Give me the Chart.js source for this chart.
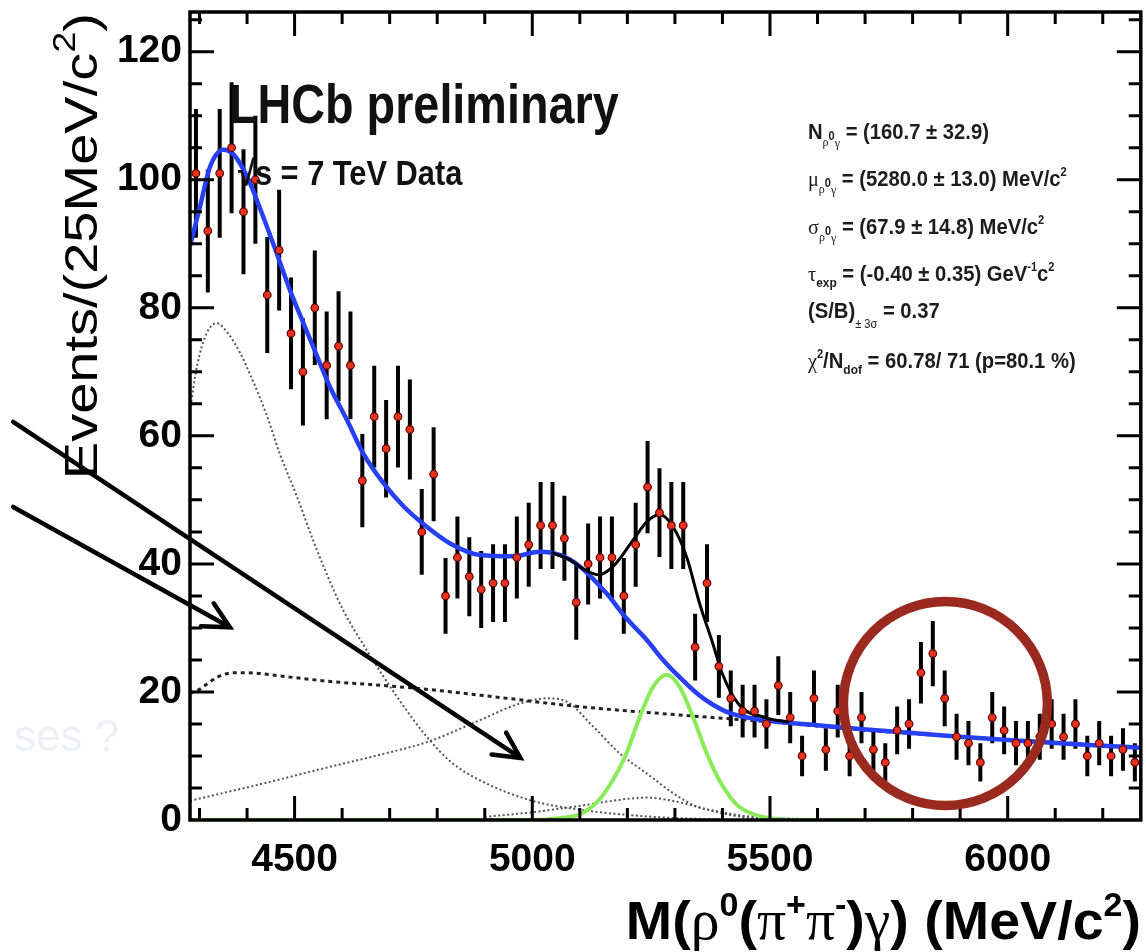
<!DOCTYPE html>
<html>
<head>
<meta charset="utf-8">
<title>M(rho0 gamma) LHCb</title>
<script src="https://cdn.jsdelivr.net/npm/chart.js@4.4.1/dist/chart.umd.min.js"></script>
<style>
  html, body { margin: 0; padding: 0; background: #fff; }
  canvas { display: block; }
</style>
</head>
<body>
<canvas id="masaChart" width="1146" height="952"></canvas>
<script>
// Rango del histograma de masa invariante (MeV/c2)
var masaMin = 4280;
var masaMax = 6280;
var anchoBin = 25;

// Eventos por bin de 25 MeV/c2
var eventos = [101, 92, 101, 105, 95, 100, 82, 89, 76, 70,
    80, 71, 74, 71, 53, 63, 58, 63, 61, 45,
    54, 35, 41, 38, 36, 37, 37, 41, 43, 46,
    46, 44, 34, 40, 41, 41, 35, 43, 52, 48,
    46, 46, 27, 37, 24, 19, 17, 17, 15, 21,
    16, 10, 19, 11, 17, 10, 16, 11, 9, 14,
    15, 23, 26, 19, 13, 12, 9, 16, 14, 12,
    12, 13, 15, 13, 15, 10, 12, 10, 11, 9];

var etiquetasX = [4500, 5000, 5500, 6000];
var etiquetasY = [0, 20, 40, 60, 80, 100, 120];

// Fondo total del ajuste (azul)
var masaFondo = [4280, 4287, 4301, 4322, 4350, 4371, 4400, 4430, 4460, 4490, 4518, 4546, 4574,
    4610, 4644, 4687, 4729, 4778, 4827, 4890, 4960, 5016, 5058, 5100, 5156, 5198, 5240, 5275, 5310,
    5346, 5380, 5416, 5486, 5600, 5689, 5800, 5899, 6000, 6110, 6200, 6280];
var fondoTotal = [89.7, 91.7, 95.8, 102, 104.7, 104, 100.5, 95, 89, 82.8, 77.7, 72.7, 67.7,
    62.5, 57.3, 52.6, 49, 45.8, 43.2, 41.4, 41.2, 41.9, 41.4, 39.6, 35.4, 31.5, 28.2, 25, 22.3,
    19.8, 18, 16.7, 15.6, 14.8, 14.2, 13.6, 13, 12.5, 12, 11.6, 11.3];

// Ajuste total senal + fondo (negro)
var masaTotal = [5040, 5080, 5110, 5140, 5170, 5212, 5240, 5268, 5296, 5325, 5352, 5380, 5400, 5435, 5490, 5540];
var ajusteTotal = [41.8, 40.6, 39.1, 38.3, 39.6, 43.7, 46.5, 47.7, 45.8, 41, 33.8, 27.5, 22.8, 18, 16, 15.3];

// Senal B0 -> rho0 gamma (verde)
var masaSenal = [4280, 5000, 5060, 5100, 5135, 5170, 5198, 5226, 5254, 5283, 5310, 5338, 5367, 5395, 5430, 5465, 5510, 5560, 5800];
var senal = [0, 0, 0.3, 0.9, 2.7, 6.3, 10.4, 16.1, 20.8, 22.7, 20.8, 16.1, 10.4, 6.0, 2.4, 0.9, 0.2, 0, 0];

// Componentes del fondo (punteadas)
var masaParcial = [4280, 4295, 4315, 4336, 4360, 4385, 4410, 4440, 4470, 4505, 4540, 4570, 4602, 4652,
    4715, 4778, 4830, 4890, 4995, 5100, 5200, 5300, 5400];
var fondoParcial = [64, 71, 76, 77.6, 76, 73, 69, 63.5, 57, 50.5, 43.5, 38, 32.8, 26.5,
    19.3, 13, 9, 6.2, 3.1, 1.6, 0.8, 0.3, 0.1];

var masaComb = [4280, 4300, 4315, 4340, 4372, 4400, 4480, 4580, 4670, 4780, 4890, 5100, 5310, 5486, 5689, 5899, 6110, 6280];
var fondoComb = [19.8, 20.4, 21.2, 22.4, 23, 23, 22.4, 21.6, 21.1, 20.4, 19.5, 17.7, 16.4, 15.4, 14.1, 13, 12.1, 11.3];

var masaOtro = [4280, 4434, 4574, 4680, 4784, 4890, 4974, 5030, 5072, 5128, 5184, 5240, 5296, 5346, 5394, 5450, 5550, 5650];
var fondoOtro = [3, 5.7, 8.3, 10.2, 12.3, 15.6, 18.2, 19, 18.5, 14.6, 10.4, 7.3, 4.2, 2.1, 1.3, 0.6, 0.2, 0];

var masaPico = [4900, 5000, 5060, 5100, 5150, 5200, 5240, 5280, 5330, 5380, 5430, 5500];
var fondoPico = [0.5, 1.2, 1.8, 2.2, 2.8, 3.3, 3.5, 3.2, 2.4, 1.4, 0.6, 0.1];

var SANS = '"Liberation Sans", Arial, Helvetica, sans-serif';
var SERIF = '"Liberation Serif", "Times New Roman", serif';

var centros = eventos.map(function (_, i) { return masaMin + anchoBin * (i + 0.5); });

function puntos(xs, ys) {
    return xs.map(function (x, i) { return {x: x, y: ys[i]}; });
}

// Texto con partes de distinto tamano (subindices, superindices)
function escribir(ctx, partes, x, y, op) {
    op = op || {};
    var ancho = 0;
    partes.forEach(function (p) {
        ctx.font = p.f;
        p.w = ctx.measureText(p.t).width;
        ancho += p.w;
    });
    ctx.save();
    ctx.translate(x, y);
    if (op.rotar) ctx.rotate(op.rotar);
    ctx.scale(op.escX || 1, op.escY || 1);
    var cx = op.alinear === 'right' ? -ancho : 0;
    ctx.textAlign = 'left';
    ctx.textBaseline = 'alphabetic';
    ctx.fillStyle = op.color || '#000';
    partes.forEach(function (p) {
        ctx.font = p.f;
        ctx.fillText(p.t, cx, p.dy || 0);
        cx += p.w;
    });
    ctx.restore();
}

var barrasError = {
    id: 'barrasError',
    beforeDatasetsDraw: function (chart) {
        var ctx = chart.ctx, a = chart.chartArea;
        var sx = chart.scales.x, sy = chart.scales.y;
        ctx.save();
        ctx.beginPath();
        ctx.rect(a.left, a.top, a.right - a.left, a.bottom - a.top);
        ctx.clip();
        ctx.strokeStyle = '#000';
        ctx.lineWidth = 4;
        eventos.forEach(function (n, i) {
            var px = sx.getPixelForValue(centros[i]);
            var err = Math.sqrt(n);
            ctx.beginPath();
            ctx.moveTo(px, sy.getPixelForValue(n - err));
            ctx.lineTo(px, sy.getPixelForValue(n + err));
            ctx.stroke();
        });
        ctx.restore();
    }
};

// Marco con marcas hacia dentro en los cuatro lados
var marco = {
    id: 'marco',
    afterDatasetsDraw: function (chart) {
        var ctx = chart.ctx, a = chart.chartArea;
        var sx = chart.scales.x, sy = chart.scales.y;
        ctx.save();
        ctx.strokeStyle = '#000';
        ctx.lineWidth = 3;
        ctx.beginPath();
        for (var v = 4300; v <= 6200; v += 100) {
            var lx = etiquetasX.indexOf(v) >= 0 ? 24 : 12;
            var px = sx.getPixelForValue(v);
            ctx.moveTo(px, a.bottom); ctx.lineTo(px, a.bottom - lx);
            ctx.moveTo(px, a.top); ctx.lineTo(px, a.top + lx);
        }
        for (var w = 5; w <= 125; w += 5) {
            var ly = etiquetasY.indexOf(w) >= 0 ? 24 : 12;
            var py = sy.getPixelForValue(w);
            ctx.moveTo(a.left, py); ctx.lineTo(a.left + ly, py);
            ctx.moveTo(a.right, py); ctx.lineTo(a.right - ly, py);
        }
        ctx.stroke();
        ctx.lineWidth = 3.5;
        ctx.strokeRect(a.left, a.top, a.right - a.left, a.bottom - a.top);
        ctx.restore();
    }
};

// Flechas, circulo y textos encima del grafico
var anotaciones = {
    id: 'anotaciones',
    afterDraw: function (chart) {
        var ctx = chart.ctx;
        var sx = chart.scales.x, sy = chart.scales.y;

        // texto apenas visible a la izquierda
        escribir(ctx, [{t: 'ses ?', f: '44px ' + SANS}], 14, 751, {color: '#eeeef7'});

        // flechas
        var flechas = [
            {desde: [3908, 62.2], hasta: [4975, 9.7]},
            {desde: [3908, 48.9], hasta: [4364, 30.1]}
        ];
        ctx.save();
        ctx.strokeStyle = '#000';
        ctx.lineWidth = 4.5;
        ctx.lineCap = 'round';
        flechas.forEach(function (f) {
            var x0 = sx.getPixelForValue(f.desde[0]), y0 = sy.getPixelForValue(f.desde[1]);
            var x1 = sx.getPixelForValue(f.hasta[0]), y1 = sy.getPixelForValue(f.hasta[1]);
            var ang = Math.atan2(y1 - y0, x1 - x0) + Math.PI;
            ctx.beginPath();
            ctx.moveTo(x0, y0);
            ctx.lineTo(x1, y1);
            ctx.moveTo(x1 + 29 * Math.cos(ang + 0.47), y1 + 29 * Math.sin(ang + 0.47));
            ctx.lineTo(x1, y1);
            ctx.lineTo(x1 + 29 * Math.cos(ang - 0.47), y1 + 29 * Math.sin(ang - 0.47));
            ctx.stroke();
        });
        ctx.restore();

        // circulo alrededor del exceso cerca de 5870
        ctx.save();
        ctx.strokeStyle = '#9a2a20';
        ctx.lineWidth = 9.5;
        ctx.beginPath();
        ctx.arc(sx.getPixelForValue(5869), sy.getPixelForValue(18.2), 102, 0, 2 * Math.PI);
        ctx.stroke();
        ctx.restore();

        // titulos
        escribir(ctx, [{t: 'LHCb preliminary', f: 'bold 55px ' + SANS}], 229, 123, {escX: 0.85, color: '#111'});
        escribir(ctx, [{t: '\u221As = 7 TeV Data', f: 'bold 35px ' + SANS}], 238, 185, {escX: 0.88, color: '#111'});

        // parametros del ajuste
        var g = 'bold 22px ' + SANS, sub = '13px ' + SERIF, chico = 'bold 13px ' + SANS, sup = 'bold 12px ' + SANS;
        var c = '#1c1c1c';
        var op = {escX: 0.92, color: c};
        var x0 = 808;
        escribir(ctx, [{t: 'N', f: g}, {t: '\u03C1', f: sub, dy: 7}, {t: '0', f: sup, dy: 1}, {t: '\u03B3', f: sub, dy: 8},
            {t: ' = (160.7 \u00B1 32.9)', f: g}], x0, 139, op);
        escribir(ctx, [{t: '\u03BC', f: '22px ' + SERIF}, {t: '\u03C1', f: sub, dy: 7}, {t: '0', f: sup, dy: 1}, {t: '\u03B3', f: sub, dy: 8},
            {t: ' = (5280.0 \u00B1 13.0) MeV/c', f: g}, {t: '2', f: sup, dy: -10}], x0, 186, op);
        escribir(ctx, [{t: '\u03C3', f: '22px ' + SERIF}, {t: '\u03C1', f: sub, dy: 7}, {t: '0', f: sup, dy: 1}, {t: '\u03B3', f: sub, dy: 8},
            {t: ' = (67.9 \u00B1 14.8) MeV/c', f: g}, {t: '2', f: sup, dy: -10}], x0, 234, op);
        escribir(ctx, [{t: '\u03C4', f: '22px ' + SERIF}, {t: 'exp', f: chico, dy: 6},
            {t: ' = (-0.40 \u00B1 0.35) GeV', f: g}, {t: '-1', f: sup, dy: -10}, {t: 'c', f: g}, {t: '2', f: sup, dy: -10}], x0, 281, op);
        escribir(ctx, [{t: '(S/B)', f: g}, {t: '\u00B1 3\u03C3', f: '12px ' + SANS, dy: 10}, {t: ' = 0.37', f: g}], x0, 318, op);
        escribir(ctx, [{t: '\u03C7', f: '22px ' + SERIF}, {t: '2', f: sup, dy: -10}, {t: '/N', f: g}, {t: 'dof', f: chico, dy: 6},
            {t: ' = 60.78/ 71 (p=80.1 %)', f: g}], x0, 368, op);

        // titulo eje Y
        escribir(ctx, [{t: 'Events/(25MeV/c', f: '56px ' + SANS}, {t: '2', f: '38px ' + SANS, dy: -26}, {t: ')', f: '56px ' + SANS}],
            97, 13, {rotar: -Math.PI / 2, escY: 0.84, alinear: 'right'});

        // titulo eje X
        var b = 'bold 54px ' + SANS, gr = '56px ' + SERIF, sp = 'bold 33px ' + SANS;
        escribir(ctx, [{t: 'M(', f: b}, {t: '\u03C1', f: gr}, {t: '0', f: sp, dy: -23}, {t: '(', f: b}, {t: '\u03C0', f: gr},
            {t: '+', f: sp, dy: -23}, {t: '\u03C0', f: gr}, {t: '-', f: sp, dy: -23}, {t: ')', f: b}, {t: '\u03B3', f: gr},
            {t: ') (MeV/c', f: b}, {t: '2', f: sp, dy: -23}, {t: ')', f: b}], 1141, 939, {alinear: 'right', escX: 1.03});
    }
};

var punteada = {borderColor: '#555', borderWidth: 2, borderDash: [2, 2.5], pointRadius: 0, showLine: true, cubicInterpolationMode: 'monotone'};

function sinRelleno(s) {
    s.paddingTop = 0;
    s.paddingBottom = 0;
    s.paddingLeft = 0;
    s.paddingRight = 0;
}

var ctx = document.getElementById('masaChart').getContext('2d');
var myChart = new Chart(ctx, {
    type: 'scatter',
    data: {
        datasets: [{
            label: 'Datos',
            data: puntos(centros, eventos),
            pointRadius: 3.8,
            pointBackgroundColor: '#e8321f',
            pointBorderColor: '#5a0000',
            pointBorderWidth: 1.2,
            showLine: false,
            order: 0
        }, {
            label: 'Ajuste total',
            data: puntos(masaTotal, ajusteTotal),
            borderColor: '#000',
            borderWidth: 3,
            pointRadius: 0,
            showLine: true,
            cubicInterpolationMode: 'monotone',
            order: 1
        }, {
            label: 'Fondo',
            data: puntos(masaFondo, fondoTotal),
            borderColor: '#2840f5',
            borderWidth: 4.5,
            pointRadius: 0,
            showLine: true,
            cubicInterpolationMode: 'monotone',
            order: 2
        }, {
            label: 'Senal',
            data: puntos(masaSenal, senal),
            borderColor: '#8aea5a',
            borderWidth: 4,
            pointRadius: 0,
            showLine: true,
            cubicInterpolationMode: 'monotone',
            order: 3
        }, Object.assign({label: 'Parcialmente reconstruido', data: puntos(masaParcial, fondoParcial), order: 4}, punteada),
        Object.assign({label: 'Combinatorio', data: puntos(masaComb, fondoComb), order: 5}, punteada,
            {borderColor: '#222', borderWidth: 3, borderDash: [4, 4]}),
        Object.assign({label: 'Otro fondo', data: puntos(masaOtro, fondoOtro), order: 6}, punteada),
        Object.assign({label: 'Pico', data: puntos(masaPico, fondoPico), order: 7}, punteada)]
    },
    options: {
        responsive: false,
        animation: false,
        devicePixelRatio: 1,
        events: [],
        layout: {padding: {top: 12, right: 2, left: 0, bottom: 0}},
        plugins: {legend: {display: false}, tooltip: {enabled: false}},
        scales: {
            x: {
                type: 'linear',
                min: masaMin,
                max: masaMax,
                grid: {display: false, drawTicks: false},
                border: {display: false},
                ticks: {
                    color: '#000',
                    font: {family: SANS, size: 39, weight: 'bold'},
                    padding: 17,
                    maxRotation: 0,
                    autoSkip: false,
                    callback: function (v) { return String(v); }
                },
                afterBuildTicks: function (s) { s.ticks = etiquetasX.map(function (v) { return {value: v}; }); },
                afterFit: function (s) { s.height = 132; sinRelleno(s); }
            },
            y: {
                min: 0,
                max: 126.2,
                grid: {display: false, drawTicks: false},
                border: {display: false},
                ticks: {
                    color: '#000',
                    font: {family: SANS, size: 39, weight: 'bold'},
                    padding: 8,
                    autoSkip: false,
                    callback: function (v) { return String(v); }
                },
                afterBuildTicks: function (s) { s.ticks = etiquetasY.map(function (v) { return {value: v}; }); },
                afterFit: function (s) { s.width = 190; sinRelleno(s); }
            }
        }
    },
    plugins: [barrasError, marco, anotaciones]
});
</script>
</body>
</html>
